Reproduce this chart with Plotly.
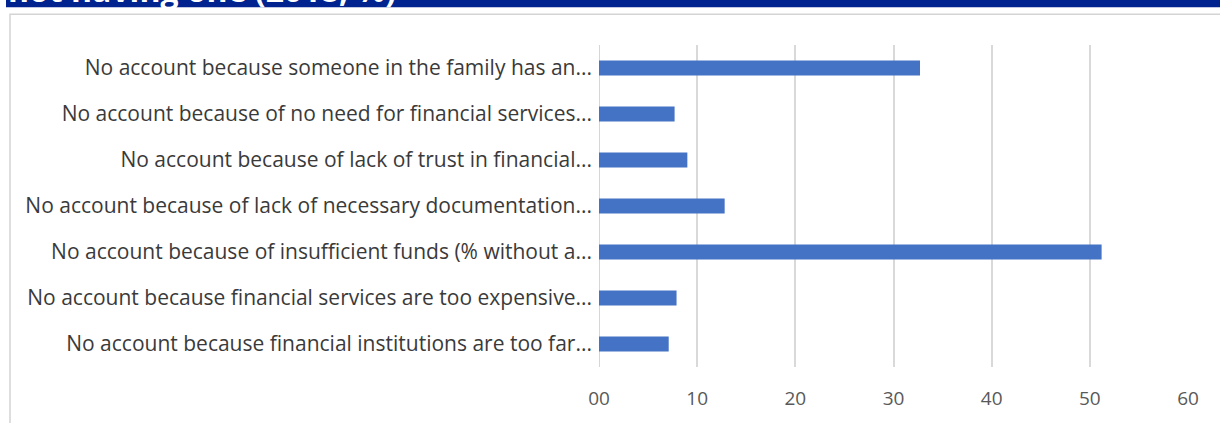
import plotly.graph_objects as go

categories = [
    "No account because someone in the family has an...",
    "No account because of no need for financial services...",
    "No account because of lack of trust in financial...",
    "No account because of lack of necessary documentation...",
    "No account because of insufficient funds (% without a...",
    "No account because financial services are too expensive...",
    "No account because financial institutions are too far...",
]
values = [32.7, 7.7, 9.0, 12.8, 51.2, 7.9, 7.1]
tick_vals = [0, 10, 20, 30, 40, 50, 60]
tick_text = ["00", "10", "20", "30", "40", "50", "60"]
title_text = "not having one (2018, %)"

W, H = 1220, 423
L, R, T, B = 599, 32, 45, 53
pw, ph = W - L - R, H - T - B


def px(x):
    return (x - L) / pw


def py(y):
    return (H - B - y) / ph


fig = go.Figure(go.Bar(
    x=values, y=categories, orientation="h",
    marker=dict(color="#4472C4", line=dict(width=0)),
    width=0.33,
))

fig.update_layout(
    width=W, height=H,
    margin=dict(l=L, r=R, t=T, b=B),
    paper_bgcolor="white", plot_bgcolor="white",
    showlegend=False,
    font=dict(family="Open Sans", color="#404040"),
    xaxis=dict(range=[0, 60], tickvals=tick_vals, ticktext=tick_text,
               showgrid=True, gridcolor="#d9d9d9", gridwidth=1.5,
               zeroline=False, showline=False, ticks="",
               ticklabelstandoff=18,
               tickfont=dict(size=19, color="#595959")),
    yaxis=dict(categoryorder="array", categoryarray=categories[::-1],
               autorange=False, range=[-0.5, 6.5],
               showgrid=False, zeroline=False, showline=False, ticks="",
               ticklabelstandoff=6,
               tickfont=dict(size=21, color="#3a3a3a")),
    shapes=[
        dict(type="rect", xref="paper", yref="paper",
             x0=px(6), x1=px(1230), y0=py(7), y1=py(-5),
             fillcolor="#00238f", line=dict(width=0), layer="below"),
        dict(type="rect", xref="paper", yref="paper",
             x0=px(10), x1=px(1235), y0=py(440), y1=py(14),
             fillcolor="rgba(0,0,0,0)", line=dict(color="#d4d4d4", width=1.5),
             layer="below"),
        dict(type="line", xref="x", yref="paper", x0=0, x1=0, y0=0, y1=1,
             line=dict(color="#c8c8c8", width=1.5), layer="below"),
    ],
    annotations=[
        dict(text=title_text, xref="paper", yref="paper",
             x=px(6), y=py(13), xanchor="left", yanchor="bottom",
             showarrow=False,
             font=dict(family="Open Sans", size=32, color="white", weight="bold")),
    ],
)

fig.write_html("out.html")
